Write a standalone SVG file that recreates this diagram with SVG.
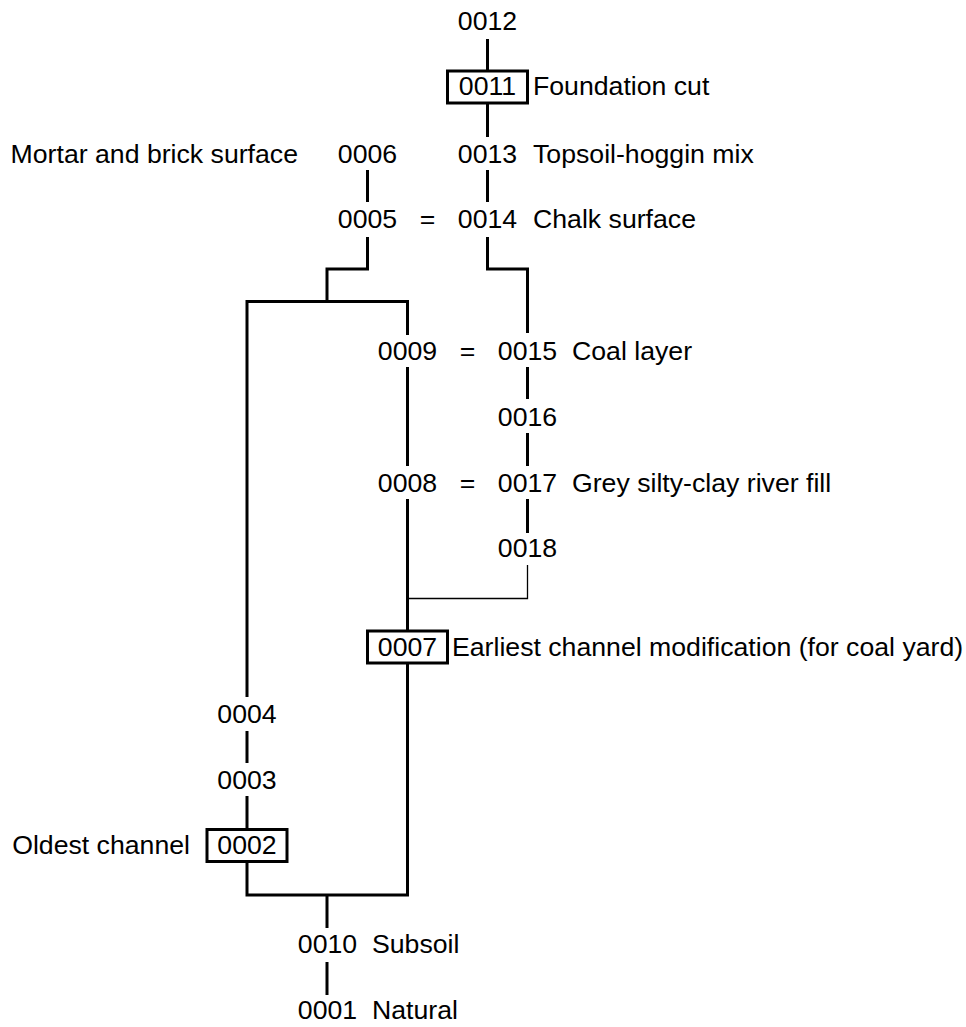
<svg xmlns="http://www.w3.org/2000/svg" width="966" height="1027" viewBox="0 0 966 1027">
<style>
text{font-family:"Liberation Sans",Arial,sans-serif;font-size:26.67px;fill:#000}
.n{text-anchor:middle}
.e{text-anchor:end}
.box{fill:none;stroke:#000;stroke-width:3}
.c{fill:none;stroke:#000;stroke-width:3;stroke-linecap:butt;stroke-linejoin:miter}
.t{fill:none;stroke:#000;stroke-width:1.3}
</style>
<rect width="966" height="1027" fill="#fff"/>
<g id="connectors">
<path class="c" d="M487.5 39V70M487.5 103V137M487.5 170V202"/>
<path class="c" d="M487.5 237V269H527.5V333"/>
<path class="c" d="M367.5 170V202"/>
<path class="c" d="M367.5 237V269H327V301.5"/>
<path class="c" d="M247 697V301.5H407.5V335"/>
<path class="c" d="M407.5 367V466M407.5 499V630"/>
<path class="c" d="M527.5 367V399M527.5 433V466M527.5 499V533"/>
<path class="t" d="M527.5 565V598.5H407.5"/>
<path class="c" d="M247 731V763M247 796V828"/>
<path class="c" d="M407.5 663V895H247V863"/>
<path class="c" d="M327 895V928M327 962V995"/>
</g>
<g id="n0012"><text class="n" x="487.5" y="30">0012</text></g>
<g id="n0011"><rect class="box" x="447.5" y="71" width="80" height="32"/><text class="n" x="487.5" y="95">0011</text><text x="533" y="95">Foundation cut</text></g>
<g id="n0013"><text class="n" x="487.5" y="163">0013</text><text x="533" y="163">Topsoil-hoggin mix</text></g>
<g id="n0006"><text class="n" x="367.5" y="163">0006</text><text class="e" x="298" y="163">Mortar and brick surface</text></g>
<g id="n0005"><text class="n" x="367.5" y="228">0005</text></g>
<g id="eq1"><text class="n" x="427.5" y="228">=</text></g>
<g id="n0014"><text class="n" x="487.5" y="228">0014</text><text x="533" y="228">Chalk surface</text></g>
<g id="n0009"><text class="n" x="407.5" y="360">0009</text></g>
<g id="eq2"><text class="n" x="467.5" y="360">=</text></g>
<g id="n0015"><text class="n" x="527.5" y="360">0015</text><text x="572" y="360">Coal layer</text></g>
<g id="n0016"><text class="n" x="527.5" y="426">0016</text></g>
<g id="n0008"><text class="n" x="407.5" y="492">0008</text></g>
<g id="eq3"><text class="n" x="467.5" y="492">=</text></g>
<g id="n0017"><text class="n" x="527.5" y="492">0017</text><text x="572" y="492">Grey silty-clay river fill</text></g>
<g id="n0018"><text class="n" x="527.5" y="557">0018</text></g>
<g id="n0007"><rect class="box" x="367.5" y="631" width="80" height="32"/><text class="n" x="407.5" y="656">0007</text><text x="452" y="656">Earliest channel modification (for coal yard)</text></g>
<g id="n0004"><text class="n" x="247" y="723">0004</text></g>
<g id="n0003"><text class="n" x="247" y="789">0003</text></g>
<g id="n0002"><rect class="box" x="207" y="829.5" width="80" height="32"/><text class="n" x="247" y="854">0002</text><text class="e" x="190" y="854">Oldest channel</text></g>
<g id="n0010"><text class="n" x="327.5" y="953">0010</text><text x="372" y="953">Subsoil</text></g>
<g id="n0001"><text class="n" x="327.5" y="1019">0001</text><text x="372" y="1019">Natural</text></g>
</svg>
